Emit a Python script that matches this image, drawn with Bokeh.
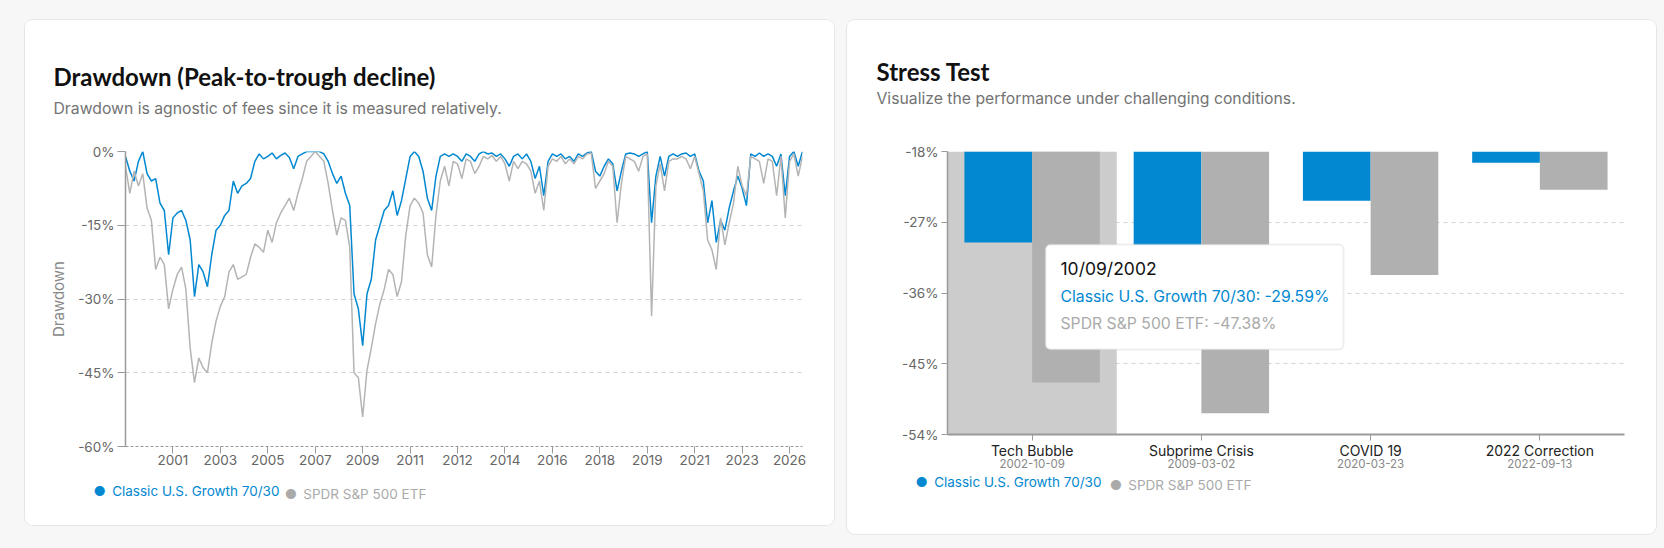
from bokeh.plotting import figure
from bokeh.models import (Range1d, FixedTicker, PrintfTickFormatter, LinearAxis,
                          Title, BoxAnnotation, Label, Spacer,
                          GlobalInlineStyleSheet, ColumnDataSource)
from bokeh.layouts import row, column
from bokeh.transform import dodge
from bokeh.embed import file_html
from bokeh.resources import INLINE

BLUE = "#0288d1"
GRAY_LINE = "#b4b4b4"
GRAY_BAR = "#b0b0b0"
LEGEND_GRAY = "#aaaaaa"

# ---------------- data: drawdown ----------------
dd_tick_labels = ["2001", "2003", "2005", "2007", "2009", "2011", "2012", "2014",
                  "2016", "2018", "2019", "2021", "2023", "2026"]
dd_tick_step = 11

growth_dd = [
    -1, -4, -6, -2, 0, -4.5, -6, -5.5, -10.5, -12,
    -21, -13.5, -12.5, -12, -14, -18, -29.5, -23, -24.5, -27.5,
    -21, -16, -15, -13, -12, -6, -8.5, -7, -6.5, -5.5,
    -2, -0.5, -1.5, -1, -0.3, -1.5, -0.8, -0.3, -1.2, -3.5,
    -1, -0.5, 0, 0, 0, 0, -0.5, -2, -4.5, -6.5,
    -5, -8.5, -11, -29, -32, -39.5, -29, -26, -18, -15,
    -12, -11, -8, -13, -10, -5.5, -1, 0, -1, -4,
    -9.5, -12, -5, -1, -0.5, -1, -0.5, -1, -2, -0.5,
    -1, -2, -0.5, 0, -0.5, -0.3, -1, -0.5, -1.5, -3,
    -1, -0.5, -1.5, -0.5, -2, -5.5, -3, -9, -2, -0.5,
    -1, -0.5, -1.5, -1, -2, -0.5, -1, -0.3, 0, -4,
    -5, -3, -1.5, -2.5, -8, -4, -0.5, -0.3, -0.5, -1,
    -0.5, 0, -14.5, -5, -1, -5, -1, -0.5, -1, -0.5,
    -0.3, -1, -0.5, -4, -6, -14.5, -10, -18.5, -14, -16,
    -11.5, -8, -5, -7.5, -11, -0.5, -1, -0.3, -1, -0.5,
    -1, -3, -0.5, -9, -1, 0, -3, 0,
]

spy_dd = [
    -3, -8.5, -4, -7, -4.5, -11.5, -14, -24, -21.5, -23,
    -32, -28, -25, -23.5, -28, -40, -47, -42, -44, -45,
    -39, -34.5, -31.5, -29.5, -24.5, -23, -26, -25.5, -25, -21.5,
    -18.8, -19.5, -20.5, -16, -18.5, -14.5, -12.5, -11, -9.5, -12,
    -8.5, -5.5, -2, -1, 0, -1, -2, -6.5, -12, -17,
    -13.5, -14, -19.5, -45, -46, -54, -44.5, -40, -35, -31,
    -28, -24, -25, -29.5, -26.5, -17, -11, -9.5, -10.5, -12.5,
    -21, -23.5, -13, -6, -3, -7, -2, -2.5, -5.5, -1.5,
    -2, -4.5, -3, -1, -1.5, -0.8, -2, -1, -2.5, -6,
    -2, -3.5, -2, -2.5, -4, -8.5, -6, -12, -3, -1.5,
    -2, -1, -2.5, -1.5, -2.5, -1, -1.5, -0.5, -0.3, -7.5,
    -6, -4.5, -2, -3, -14.5, -6.5, -1, -1.5, -2, -4,
    -1, -0.5, -33.5, -7, -2.5, -8, -2, -1.5, -1.5, -1,
    -1.5, -3.5, -1, -4.5, -8, -18, -20, -24, -13.5, -19,
    -14.5, -10.5, -3, -7, -9, -1, -1.5, -2, -6.5, -1.5,
    -2, -9, -1, -13.5, -2, -0.5, -5, -1,
]

series_names = ["Classic U.S. Growth 70/30", "SPDR S&P 500 ETF"]

# ---------------- data: stress test ----------------
stress_events = ["Tech Bubble", "Subprime Crisis", "COVID 19", "2022 Correction"]
stress_dates = ["2002-10-09", "2009-03-02", "2020-03-23", "2022-09-13"]
stress_growth = [-29.59, -37.6, -24.25, -19.43]
stress_spy = [-47.38, -51.3, -33.7, -22.86]
stress_ticks = [-54, -45, -36, -27, -18]
dd_yticks = [-60, -45, -30, -15, 0]

FONT = "Inter"
TITLE_FONT = "Lato"
FRAME_W = 677
BORDERS = dict(min_border_left=100, min_border_right=32, min_border_top=131,
               min_border_bottom=79)
CARD_STYLE = {"border-radius": "8px", "overflow": "hidden",
              "box-shadow": "0 0 0 1px #e6e6e6", "background-color": "white"}


def style_axes(p):
    for ax in p.axis:
        ax.major_label_text_font = FONT
        ax.major_label_text_font_size = "13.5px"
        ax.major_label_text_color = "#666666"
        ax.axis_line_color = "#9a9a9a"
        ax.major_tick_line_color = "#9a9a9a"
        ax.minor_tick_line_color = None
        ax.major_tick_in = 0


def add_titles(p, title, subtitle, offset, spacer_standoff, title_standoff):
    p.add_layout(Title(text=" ", text_font=FONT, text_font_size="10px",
                       standoff=spacer_standoff), "above")
    p.add_layout(Title(text=subtitle, align="left", offset=offset, standoff=0,
                       text_font=FONT, text_font_size="15.75px", text_font_style="normal",
                       text_color="#737373"), "above")
    p.add_layout(Title(text=title, align="left", offset=offset, standoff=title_standoff,
                       text_font=TITLE_FONT, text_font_size="24px", text_font_style="bold",
                       text_color="#111111"), "above")


def add_legend_axes(p, centers, standoffs):
    # legend entries drawn as label-only axes below the chart (one per series colour)
    p.extra_x_ranges["legend"] = Range1d(0, FRAME_W)
    for name, col, cx, so in zip(series_names, [BLUE, LEGEND_GRAY], centers, standoffs):
        ax = LinearAxis(x_range_name="legend", ticker=FixedTicker(ticks=[cx]),
                        major_label_overrides={cx: "\u25cf \u2009" + name})
        ax.axis_line_color = None
        ax.major_tick_line_color = None
        ax.minor_tick_line_color = None
        ax.major_tick_out = 0
        ax.minor_tick_out = 0
        ax.major_tick_in = 0
        ax.major_label_standoff = so
        ax.major_label_text_font = FONT
        ax.major_label_text_font_size = "13.5px"
        ax.major_label_text_color = col
        p.add_layout(ax, "below")


# ================= Left: Drawdown =================
n = len(growth_dd)
p1 = figure(width=809, height=505, output_backend="svg", toolbar_location=None,
            title=None, x_range=Range1d(0, n - 1), y_range=Range1d(-60, 0),
            background_fill_color="white", border_fill_color="white",
            outline_line_color=None, styles=CARD_STYLE, **BORDERS)

src1 = ColumnDataSource(dict(i=list(range(n)), g=growth_dd, s=spy_dd))
p1.line("i", "g", source=src1, line_color=BLUE, line_width=1.5)
p1.line("i", "s", source=src1, line_color=GRAY_LINE, line_width=1.5)

tick_idx = [dd_tick_step * (k + 1) for k in range(len(dd_tick_labels))]
p1.xaxis.ticker = FixedTicker(ticks=tick_idx)
p1.xaxis.major_label_overrides = {t: lab for t, lab in zip(tick_idx, dd_tick_labels)}
p1.yaxis.ticker = FixedTicker(ticks=dd_yticks)
p1.yaxis.formatter = PrintfTickFormatter(format="%d%%")
style_axes(p1)
p1.xaxis.major_tick_out = 7
p1.xaxis.major_label_standoff = 1
p1.xaxis.axis_line_dash = "3 2"
p1.yaxis.major_tick_out = 8
p1.yaxis.major_label_standoff = 3
p1.yaxis.axis_line_width = 1.5
p1.yaxis.axis_label = "Drawdown"
p1.yaxis.axis_label_text_font = FONT
p1.yaxis.axis_label_text_font_size = "15px"
p1.yaxis.axis_label_text_font_style = "normal"
p1.yaxis.axis_label_text_color = "#888888"
p1.yaxis.axis_label_standoff = 7
p1.xgrid.visible = False
p1.ygrid.grid_line_dash = "4 4"
p1.ygrid.grid_line_color = "#d2d2d2"

add_titles(p1, "Drawdown (Peak-to-trough decline)",
           "Drawdown is agnostic of fees since it is measured relatively.",
           -72, 20, 11)
add_legend_axes(p1, [61, 230], [15, -16])

# ================= Right: Stress Test =================
m = len(stress_events)
p2 = figure(width=809, height=493, output_backend="svg", toolbar_location=None,
            title=None, x_range=Range1d(-0.5, m - 0.5),
            y_range=Range1d(stress_ticks[0], stress_ticks[-1]),
            background_fill_color="white", border_fill_color="white",
            outline_line_color=None, **BORDERS)

ytop = p2.y_range.end
ybot = p2.y_range.start
# hovered category band (first event)
p2.vbar(x=[0], width=1.0, top=ytop, bottom=ybot, fill_color="#cccccc", line_color=None)

src2 = ColumnDataSource(dict(pos=list(range(m)), g=stress_growth, s=stress_spy,
                             base=[ytop] * m))
p2.vbar(x=dodge("pos", -0.2), top="base", bottom="g", width=0.4,
        source=src2, fill_color=BLUE, line_color=None)
p2.vbar(x=dodge("pos", 0.2), top="base", bottom="s", width=0.4,
        source=src2, fill_color=GRAY_BAR, line_color=None)

p2.xaxis.ticker = FixedTicker(ticks=list(range(m)))
p2.xaxis.major_label_overrides = {i: e for i, e in enumerate(stress_events)}
p2.yaxis.ticker = FixedTicker(ticks=stress_ticks)
p2.yaxis.formatter = PrintfTickFormatter(format="%d%%")
date_axis = LinearAxis(ticker=FixedTicker(ticks=list(range(m))),
                       major_label_overrides={i: d for i, d in enumerate(stress_dates)})
p2.add_layout(date_axis, "below")
style_axes(p2)
p2.yaxis.major_tick_out = 6
p2.yaxis.major_label_standoff = 3
p2.yaxis.axis_line_width = 1.5
p2.xaxis[0].major_tick_out = 6
p2.xaxis[0].major_label_standoff = 1
p2.xaxis[0].axis_line_width = 2
p2.xaxis[0].major_label_text_font_size = "14px"
p2.xaxis[0].major_label_text_color = "#222222"
date_axis.major_label_text_font_size = "11.5px"
date_axis.major_label_text_color = "#888888"
date_axis.axis_line_color = None
date_axis.major_tick_line_color = None
date_axis.major_tick_out = 0
date_axis.major_label_standoff = -3
p2.xgrid.visible = False
p2.ygrid.grid_line_dash = "4 4"
p2.ygrid.grid_line_color = "#d2d2d2"

add_titles(p2, "Stress Test",
           "Visualize the performance under challenging conditions.",
           -71, 30, 2)
add_legend_axes(p2, [61, 233], [3, -16])

# tooltip (hover state on first event)
yy, mm, dd = stress_dates[0].split("-")
tip_box = BoxAnnotation(left=98, right=396, bottom=85, top=190,
                        left_units="screen", right_units="screen",
                        bottom_units="screen", top_units="screen",
                        fill_color="white", fill_alpha=1.0, line_color="#c8c8cc",
                        line_width=2, border_radius=5)
p2.add_layout(tip_box)
tip_lines = [
    (f"{mm}/{dd}/{yy}", "#111111", "17.5px", 166),
    (f"{series_names[0]}: {stress_growth[0]:.2f}%", BLUE, "15.75px", 138),
    (f"{series_names[1]}: {stress_spy[0]:.2f}%", "#aaaaaa", "15.75px", 111),
]
for txt, col, fs, yy_ in tip_lines:
    p2.add_layout(Label(x=113, y=yy_, x_units="screen", y_units="screen", text=txt,
                        text_color=col, text_font=FONT, text_font_size=fs,
                        text_baseline="middle", text_align="left"))

card2 = column(p2, Spacer(height=21, width=809), styles=CARD_STYLE)

gss = GlobalInlineStyleSheet(css="body { background-color: #f7f7f7; }")
root = column(Spacer(height=20),
              row(Spacer(width=25), p1, Spacer(width=13), card2),
              stylesheets=[gss])

open("out.html", "w").write(file_html(root, INLINE))
